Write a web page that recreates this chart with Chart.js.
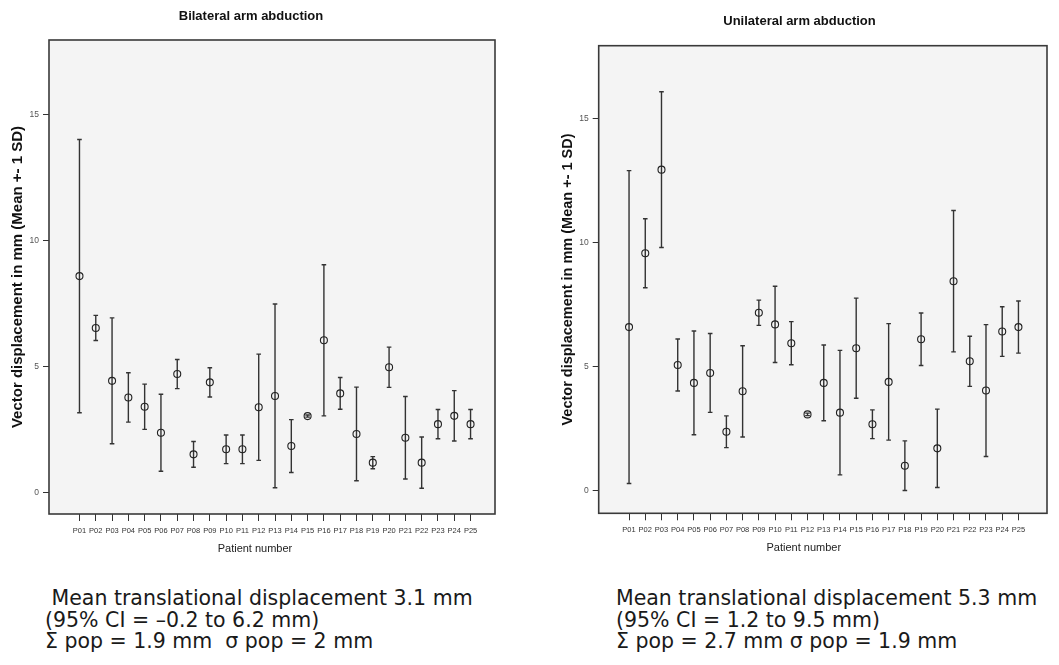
<!DOCTYPE html>
<html>
<head>
<meta charset="utf-8">
<title>Arm abduction displacement</title>
<script src="https://cdn.jsdelivr.net/npm/chart.js@4.4.1/dist/chart.umd.min.js"></script>
<style>
  html, body { margin:0; padding:0; background:#fff; }
  body { width:1059px; height:665px; position:relative; overflow:hidden; }
  .wrap { position:absolute; top:0; }
  .note {
    position:absolute; top:588px;
    font-family:'DejaVu Sans', Verdana, sans-serif;
    font-size:20.5px; line-height:21.7px; color:#1a1a1a;
    white-space:pre;
  }
</style>
</head>
<body>

<div class="wrap" style="left:0"><canvas id="chBi" width="505" height="565"></canvas></div>
<div class="wrap" style="left:540px"><canvas id="chUni" width="519" height="565"></canvas></div>

<div class="note" style="left:45px"> Mean translational displacement 3.1 mm
(95% CI = &#8211;0.2 to 6.2 mm)
&#931; pop = 1.9 mm  &#963; pop = 2 mm</div>
<div class="note" style="left:616px">Mean translational displacement 5.3 mm
(95% CI = 1.2 to 9.5 mm)
&#931; pop = 2.7 mm &#963; pop = 1.9 mm</div>

<script>
// ── data ────────────────────────────────────────────────────────────────────
const patients = ['P01','P02','P03','P04','P05','P06','P07','P08','P09','P10',
                  'P11','P12','P13','P14','P15','P16','P17','P18','P19','P20',
                  'P21','P22','P23','P24','P25'];
const yTickValues = [0, 5, 10, 15];

// bilateral arm abduction: mean and 1 SD per patient (mm)
const biMean = [8.59, 6.53, 4.43, 3.77, 3.40, 2.37, 4.70, 1.51, 4.37, 1.71,
                1.71, 3.38, 3.83, 1.84, 3.03, 6.04, 3.93, 2.32, 1.18, 4.97,
                2.17, 1.18, 2.71, 3.04, 2.71];
const biSD   = [5.43, 0.50, 2.50, 0.98, 0.90, 1.53, 0.58, 0.51, 0.58, 0.57,
                0.57, 2.11, 3.65, 1.05, 0.04, 3.00, 0.63, 1.86, 0.24, 0.80,
                1.64, 1.02, 0.58, 1.00, 0.58];

// unilateral arm abduction
const uniMean = [6.58, 9.56, 12.93, 5.05, 4.33, 4.73, 2.36, 3.99, 7.16, 6.69,
                 5.93, 3.06, 4.33, 3.13, 5.73, 2.66, 4.37, 0.99, 6.09, 1.69,
                 8.43, 5.20, 4.02, 6.40, 6.58];
const uniSD   = [6.31, 1.39, 3.14, 1.05, 2.09, 1.59, 0.64, 1.84, 0.51, 1.54,
                 0.87, 0.05, 1.53, 2.51, 2.02, 0.58, 2.35, 1.00, 1.06, 1.58,
                 2.85, 1.01, 2.66, 1.00, 1.05];

Chart.defaults.font.family = "'Liberation Sans', Arial, sans-serif";
Chart.defaults.color = '#333';

// grey plot area + dark frame, SPSS style
const plotFrame = {
  id: 'plotFrame',
  beforeDraw(chart) {
    const a = chart.chartArea, ctx = chart.ctx;
    ctx.save();
    ctx.fillStyle = '#f4f4f4';
    ctx.fillRect(a.left, a.top, a.right - a.left, a.bottom - a.top);
    ctx.restore();
  },
  afterDraw(chart, args, opts) {
    const a = chart.chartArea, ctx = chart.ctx;
    ctx.save();
    ctx.strokeStyle = '#3a3a3a';
    ctx.lineWidth = 1.6;
    ctx.strokeRect(a.left, a.top, a.right - a.left, a.bottom - a.top);
    // x axis title sits a bit left of centre in the original
    ctx.fillStyle = '#222';
    ctx.font = "11px 'Liberation Sans', Arial, sans-serif";
    ctx.textAlign = 'center';
    ctx.textBaseline = 'middle';
    ctx.fillText(opts.xTitle, chart.scales.x.getPixelForValue(opts.xTitleAt), a.bottom + 35);
    ctx.restore();
  }
};

// mean +- 1 SD whiskers
const errorBars = {
  id: 'errorBars',
  beforeDatasetsDraw(chart, args, opts) {
    const ctx = chart.ctx, xs = chart.scales.x, ys = chart.scales.y;
    ctx.save();
    ctx.strokeStyle = '#333';
    ctx.lineWidth = 1.4;
    opts.means.forEach((m, i) => {
      const x = xs.getPixelForValue(i + 1);
      const yt = ys.getPixelForValue(m + opts.sds[i]);
      const yb = ys.getPixelForValue(m - opts.sds[i]);
      ctx.beginPath();
      ctx.moveTo(x, yt); ctx.lineTo(x, yb);
      ctx.moveTo(x - 2.3, yt); ctx.lineTo(x + 2.3, yt);
      ctx.moveTo(x - 2.3, yb); ctx.lineTo(x + 2.3, yb);
      ctx.stroke();
    });
    ctx.restore();
  }
};

function makeChart(id, o) {
  return new Chart(document.getElementById(id), {
    type: 'scatter',
    data: {
      datasets: [{
        data: o.means.map((m, i) => ({ x: i + 1, y: m })),
        pointStyle: 'circle',
        pointRadius: 3.5,
        pointHoverRadius: 3.5,
        pointBorderWidth: 1.1,
        pointBorderColor: '#222',
        pointBackgroundColor: 'rgba(0,0,0,0)',
        showLine: false,
      }]
    },
    plugins: [plotFrame, errorBars],
    options: {
      responsive: false,
      animation: false,
      layout: { padding: { left: o.padL, right: o.padR, top: 0, bottom: 0 } },
      plugins: {
        legend: { display: false },
        tooltip: { enabled: false },
        title: {
          display: true, text: o.title, color: '#111',
          font: { size: 13, weight: 'bold' },
          padding: { top: o.titleTop, bottom: o.titleBottom },
        },
        plotFrame: { xTitle: 'Patient number', xTitleAt: 11.77 },
        errorBars: { means: o.means, sds: o.sds },
      },
      scales: {
        x: {
          type: 'linear', min: o.xMin, max: o.xMax,
          afterBuildTicks: s => { s.ticks = patients.map((p, i) => ({ value: i + 1 })); },
          afterFit: s => { s.height = o.xAxisH; },
          grid: { drawOnChartArea: false, drawTicks: true, tickLength: 7, color: '#333', lineWidth: 1 },
          border: { display: false },
          ticks: {
            autoSkip: false, maxRotation: 0, padding: 5, color: '#333',
            font: { size: 7.5 },
            callback: v => patients[v - 1] || '',
          },
        },
        y: {
          type: 'linear', min: o.yMin, max: o.yMax,
          afterBuildTicks: s => { s.ticks = yTickValues.map(v => ({ value: v })); },
          afterFit: s => { s.width = o.yAxisW; },
          grid: { drawOnChartArea: false, drawTicks: true, tickLength: 6, color: '#333', lineWidth: 1 },
          border: { display: false },
          ticks: { padding: 4, color: '#555', font: { size: 8.5 } },
          title: {
            display: true, text: 'Vector displacement in mm (Mean +- 1 SD)', color: '#111',
            font: { size: o.yTitleSize, weight: 'bold' },
            padding: { top: o.yTitlePad, bottom: 0 },
          },
        },
      },
    },
  });
}

makeChart('chBi', {
  title: 'Bilateral arm abduction', means: biMean, sds: biSD,
  padL: 7, padR: 10, titleTop: 8.9, titleBottom: 15.5,
  xMin: -0.87, xMax: 26.5, yMin: -0.86, yMax: 17.97,
  xAxisH: 51, yAxisW: 42, yTitleSize: 15, yTitlePad: 2.3,
});

makeChart('chUni', {
  title: 'Unilateral arm abduction', means: uniMean, sds: uniSD,
  padL: 12, padR: 12, titleTop: 13.9, titleBottom: 16.2,
  xMin: -0.87, xMax: 26.76, yMin: -0.93, yMax: 17.93,
  xAxisH: 51.7, yAxisW: 46.7, yTitleSize: 14.5, yTitlePad: 7.3,
});
</script>
</body>
</html>
